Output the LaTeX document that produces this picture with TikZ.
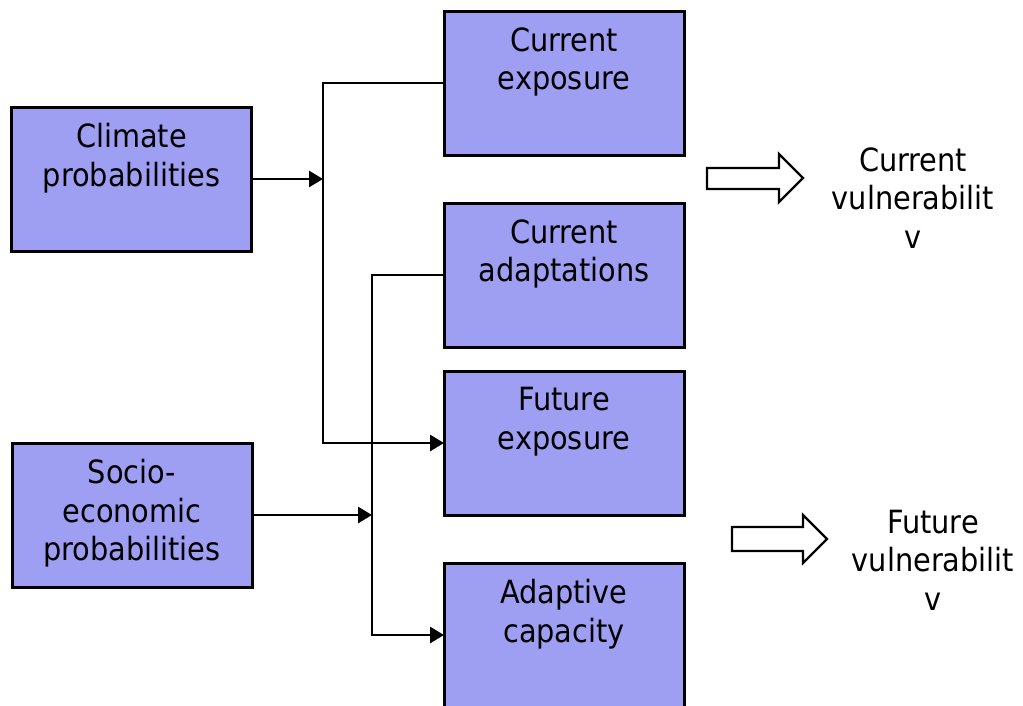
\documentclass[tikz,border=0pt]{standalone}
\usepackage{fontspec}
\setmainfont{DejaVu Sans Condensed}
\usetikzlibrary{arrows.meta}
\definecolor{boxblue}{RGB}{158,158,243}

\begin{document}
\begin{tikzpicture}[x=1pt,y=-1pt,inner sep=0pt,outer sep=0pt,
    every node/.style={font=\fontsize{32}{38.5}\selectfont},
    box/.style={draw,line width=3pt,fill=boxblue,minimum width=240pt,minimum height=144pt},
    toptext/.style={anchor=north,align=center,execute at begin node=\strut},
    boxtext/.style={toptext,yshift=-16.6pt},
    link/.style={line width=2.8pt},
    tip/.style={link,-{Triangle[length=14pt,width=16pt]}},
    hollow/.style={draw,line width=2.2pt,line join=miter}]
  \useasboundingbox (0,0) rectangle (1023,705);
    % 
  \node[box,label={[boxtext]north:Climate\\probabilities}] (clim) at (131.5,179) {};
  \node[box,label={[boxtext]north:Socio-\\economic\\probabilities}] (socio) at (132,515) {};
  \node[box,label={[boxtext]north:Current\\exposure}] (cexp) at (564,83) {};
  \node[box,label={[boxtext]north:Current\\adaptations}] (cadapt) at (564,275) {};
  \node[box,label={[boxtext]north:Future\\exposure}] (fexp) at (564,443) {};
  \node[box,label={[boxtext]north:Adaptive\\capacity}] (adcap) at (564,635) {};
    % 
  \coordinate (jclim) at (323,179);
  \coordinate (jsoc) at (372,515);
  \draw[tip] (clim.east) -- (jclim);
  \draw[tip] (cexp.west) -| (jclim) |- (fexp.west);
  \draw[tip] (socio.east) -- (jsoc);
  \draw[tip] (cadapt.west) -| (jsoc) |- (adcap.west);
    % 
  \draw[hollow] (707,168) -- (779,168) -- (779,154) -- (803,178) -- (779,202) -- (779,189) -- (707,189) -- cycle;
  \draw[hollow] (732,527) -- (803,527) -- (803,515) -- (827,539) -- (803,563) -- (803,551) -- (732,551) -- cycle;
  \node[toptext] (cvul) at (913,147.7) {Current\\vulnerabilit\\v};
  \node[toptext] (fvul) at (933,509.7) {Future\\vulnerabilit\\v};

\end{tikzpicture}
\end{document}
